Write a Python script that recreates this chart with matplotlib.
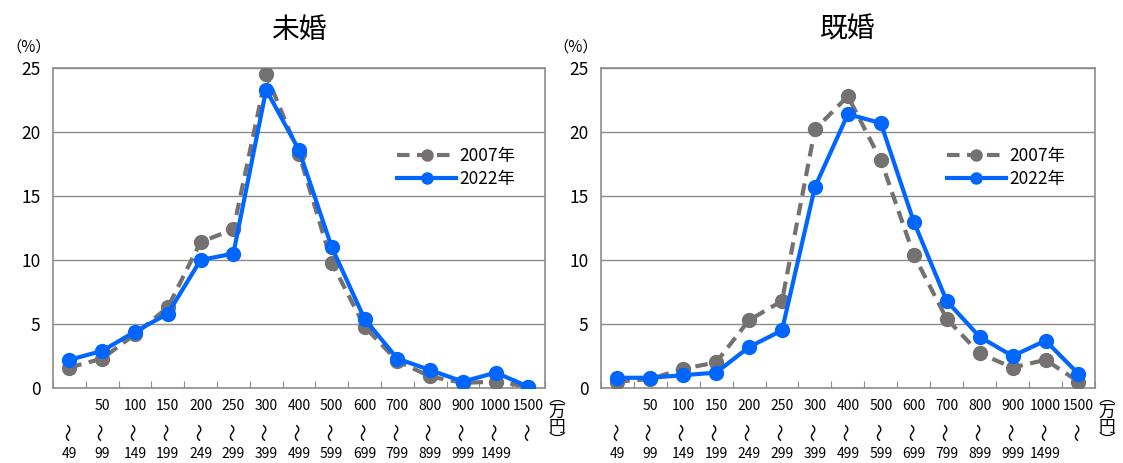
import numpy as np
import matplotlib.pyplot as plt

plt.rcParams['font.family'] = ['Noto Sans CJK JP', 'DejaVu Sans']

# income brackets (万円)
lows = ['', '50', '100', '150', '200', '250', '300', '400', '500', '600',
        '700', '800', '900', '1000', '1500']
highs = ['49', '99', '149', '199', '249', '299', '399', '499', '599', '699',
         '799', '899', '999', '1499', '']

single_2007 = [1.6, 2.3, 4.2, 6.3, 11.4, 12.4, 24.5, 18.3, 9.8, 4.8,
               2.1, 0.9, 0.4, 0.5, 0.1]
single_2022 = [2.2, 2.9, 4.4, 5.8, 10.0, 10.5, 23.3, 18.6, 11.0, 5.4,
               2.3, 1.4, 0.5, 1.2, 0.1]
married_2007 = [0.5, 0.7, 1.5, 2.0, 5.3, 6.8, 20.2, 22.8, 17.8, 10.4,
                5.4, 2.7, 1.6, 2.2, 0.5]
married_2022 = [0.8, 0.8, 1.0, 1.2, 3.2, 4.5, 15.7, 21.4, 20.7, 13.0,
                6.8, 4.0, 2.5, 3.7, 1.1]

gray = '#767171'
blue = '#0066ff'
frame = '#8c8c8c'

fig = plt.figure(figsize=(11.23, 4.63), dpi=100)
ax1 = fig.add_axes([0.0472, 0.162, 0.438, 0.691])
ax2 = fig.add_axes([0.535, 0.162, 0.440, 0.691])

panels = [(ax1, '未婚', single_2007, single_2022),
          (ax2, '既婚', married_2007, married_2022)]

x = np.arange(len(lows))
for ax, title, v07, v22 in panels:
    ax.plot(x, v07, color=gray, lw=3, ls=(0, (3, 1.8)), marker='o', ms=10,
            label='2007年', zorder=3)
    ax.plot(x, v22, color=blue, lw=3, marker='o', ms=10,
            label='2022年', zorder=4)
    ax.set_xlim(-0.5, len(lows) - 0.5)
    ax.set_ylim(0, 25)
    ax.set_yticks([0, 5, 10, 15, 20, 25])
    ax.tick_params(axis='y', length=0, labelsize=12.5, pad=9)
    ax.yaxis.grid(True, color=frame, lw=1)
    ax.set_axisbelow(True)
    ax.set_xticks(np.arange(len(lows) + 1) - 0.5)
    ax.set_xticklabels([])
    ax.tick_params(axis='x', direction='in', length=5, color=frame)
    for sp in ax.spines.values():
        sp.set_color(frame)
        sp.set_linewidth(1.2)
    ax.set_title(title, fontsize=20, pad=22)

    tr = ax.get_xaxis_transform()
    for i in x:
        ax.text(i, -0.055, lows[i], transform=tr, ha='center', va='center',
                fontsize=10)
        ax.text(i, -0.137, '〜', transform=tr, ha='center', va='center',
                fontsize=13, rotation=90)
        ax.text(i, -0.205, highs[i], transform=tr, ha='center', va='center',
                fontsize=10)
    ax.text(1.008, -0.1, '︵\n万\n円\n︶', transform=ax.transAxes,
            ha='left', va='center', fontsize=12, linespacing=0.8)
    ax.text(-0.05, 1.065, '（%）', transform=ax.transAxes, ha='center',
            va='center', fontsize=11)

    ax.legend(loc='center', bbox_to_anchor=(0.82, 0.69), frameon=False,
              fontsize=12.5, handlelength=3.4, handletextpad=0.2,
              labelspacing=0.3, markerscale=0.8)

fig.savefig('out.png', dpi=100)
